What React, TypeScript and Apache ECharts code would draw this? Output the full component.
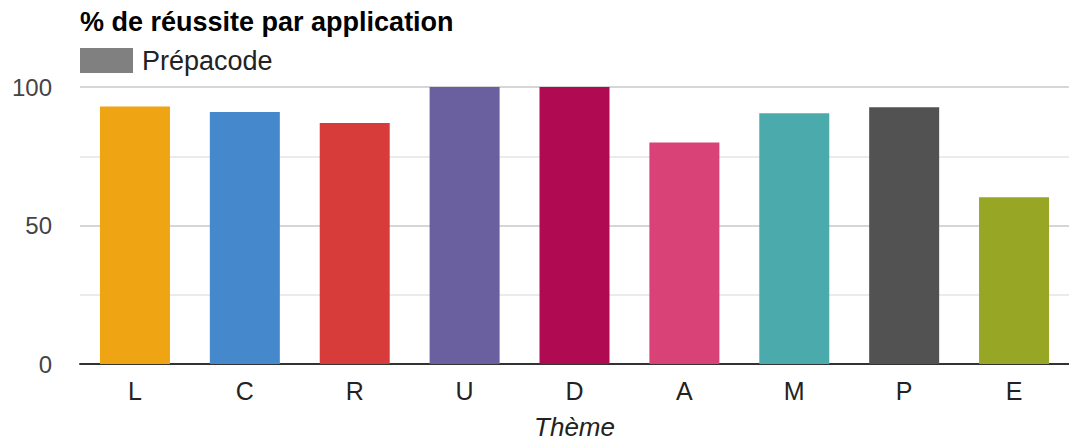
import React, { useEffect, useRef } from "react";
import * as echarts from "echarts";

const categories = ["L", "C", "R", "U", "D", "A", "M", "P", "E"];
const values = [93, 91, 87, 100, 100, 80, 90.5, 92.7, 60.2];
const barColors = ["#efa414", "#4589cc", "#d73c3a", "#6a60a0", "#b00a52", "#d94276", "#4babac", "#525252", "#98a626"];
const yTickLabels = [0, 50, 100];
const seriesName = "Prépacode";
const titleText = "% de réussite par application";
const xAxisName = "Thème";

export default function App() {
  const ref = useRef<HTMLDivElement>(null);
  useEffect(() => {
    document.body.style.margin = "0";
    const chart = echarts.init(ref.current!, null, { renderer: "svg" });
    const font = "Arial, 'Liberation Sans', sans-serif";
    chart.setOption({
      animation: false,
      textStyle: { fontFamily: font },
      title: {
        text: titleText,
        left: 80,
        top: 8,
        padding: 0,
        textStyle: { fontSize: 27, fontWeight: "bold", color: "#000", fontFamily: font },
      },
      legend: {
        left: 80,
        top: 47,
        padding: 0,
        itemWidth: 53,
        itemHeight: 25,
        itemGap: 10,
        icon: "rect",
        textStyle: { fontSize: 27, color: "#222", fontFamily: font, padding: [0, 0, 0, 4] },
        data: [{ name: seriesName, itemStyle: { color: "#808080" } }],
      },
      grid: { left: 80, right: 0, top: 87, bottom: 79, containLabel: false, outerBoundsMode: "none" },
      xAxis: {
        type: "category",
        data: categories,
        name: xAxisName,
        nameLocation: "middle",
        nameGap: 50,
        nameTextStyle: { fontSize: 26, fontStyle: "italic", color: "#222", fontFamily: font, verticalAlign: "top" },
        axisLine: { lineStyle: { color: "#333", width: 2 } },
        axisTick: { show: false },
        axisLabel: { fontSize: 25, color: "#222", margin: 14, fontFamily: font },
      },
      yAxis: {
        type: "value",
        min: 0,
        max: 100,
        interval: 25,
        axisLine: { show: false },
        axisTick: { show: false },
        axisLabel: {
          fontSize: 24,
          color: "#444",
          margin: 28,
          fontFamily: font,
          formatter: (v: number) => (yTickLabels.includes(v) ? String(v) : ""),
        },
        splitLine: {
          lineStyle: { color: ["#cccccc", "#ebebeb", "#d6d6d6", "#ebebeb", "#d6d6d6"], width: 2 },
        },
      },
      series: [
        {
          name: seriesName,
          type: "bar",
          barWidth: 70,
          itemStyle: { color: "#808080" },
          data: values.map((v, i) => ({ value: v, itemStyle: { color: barColors[i] } })),
        },
      ],
    });
    return () => chart.dispose();
  }, []);
  return <div ref={ref} style={{ width: 1069, height: 443 }} />;
}
